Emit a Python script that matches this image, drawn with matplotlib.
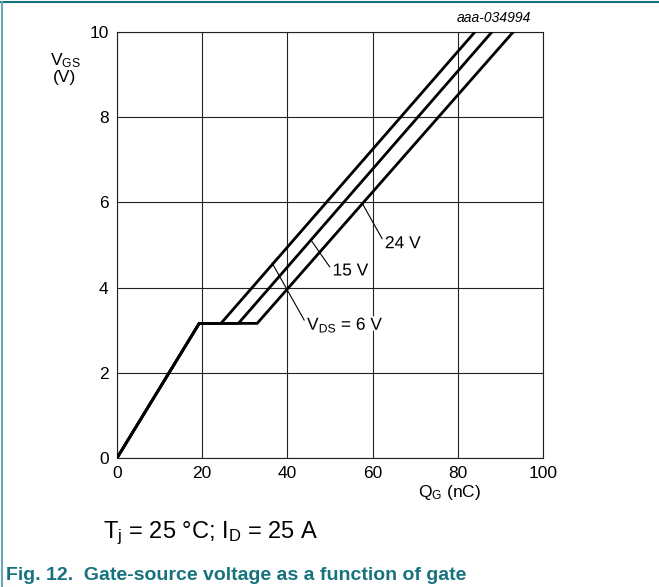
import matplotlib
matplotlib.use("Agg")
import matplotlib.pyplot as plt
import matplotlib.patheffects as pe

plt.rcParams['font.family'] = ['Liberation Sans', 'DejaVu Sans']
plt.rcParams['mathtext.fontset'] = 'custom'
plt.rcParams['mathtext.rm'] = 'Liberation Sans'
plt.rcParams['mathtext.it'] = 'Liberation Sans:italic'

# Gate charge curves (QG in nC, VGS in V)
vds_labels = ['6 V', '15 V', '24 V']
qg_6v = [0, 19.3, 24.4, 84.0]
qg_15v = [0, 19.3, 28.5, 88.0]
qg_24v = [0, 19.3, 32.9, 93.0]
vgs = [0, 3.16, 3.16, 10.0]

x_ticks = [0, 20, 40, 60, 80, 100]
y_ticks = [0, 2, 4, 6, 8, 10]

teal = '#16737d'

fig = plt.figure(figsize=(6.59, 5.87), dpi=100)
ax = fig.add_axes([117/659, 1 - 458/587, 426/659, 426/587])

for q in (qg_6v, qg_15v, qg_24v):
    ax.plot(q, vgs, color='black', lw=2.0, solid_joinstyle='miter', zorder=3)

ax.set_xlim(0, 100)
ax.set_ylim(0, 10)
ax.set_xticks(x_ticks)
ax.set_yticks(y_ticks)
ax.tick_params(length=0, labelsize=12.5, pad=6)
ax.grid(True, color='#222222', lw=0.8)
for s in ax.spines.values():
    s.set_linewidth(0.8)
    s.set_color('#222222')

knock = [pe.withStroke(linewidth=3, foreground='white')]

# curve labels with leader lines
ann = [
    ('24 V', (57.5, 5.99), (62.9, 5.03)),
    ('15 V', (45.5, 5.12), (50.6, 4.39)),
    ('V$_{\\mathrm{DS}}$ = 6 V', (36.4, 4.58), (44.6, 3.12)),
]
for txt, xy, xyt in ann:
    ax.annotate(txt, xy=xy, xytext=xyt, fontsize=12.5, va='center', ha='left',
                path_effects=knock, zorder=5,
                arrowprops=dict(arrowstyle='-', lw=0.8, color='black',
                                shrinkA=0, shrinkB=0, relpos=(0, 0.5)))

fig.text(65/659, 1 - 68/587, 'V$_{\\mathrm{GS}}$\n(V)', fontsize=12.5,
         ha='center', va='center', linespacing=1.0)
fig.text(450/659, 1 - 493/587, 'Q$_{\\mathrm{G}}$ (nC)', fontsize=12.5,
         ha='center', va='center')
fig.text(531/659, 1 - 18/587, 'aaa-034994', fontsize=10, style='italic',
         ha='right', va='center')

fig.text(103/659, 1 - 533/587, 'T$_{\\mathrm{j}}$ = 25 °C; I$_{\\mathrm{D}}$ = 25 A',
         fontsize=17, ha='left', va='center')
fig.text(6/659, 1 - 576/587, 'Fig. 12.  Gate-source voltage as a function of gate',
         fontsize=14, fontweight='bold', color=teal, ha='left', va='center')

# page border lines
fig.add_artist(plt.Line2D([0, 1], [1 - 2/587, 1 - 2/587], color=teal, lw=1.5))
fig.add_artist(plt.Line2D([1.5/659, 1.5/659], [0, 1 - 2/587], color='#6aa8b0', lw=1.5))

fig.savefig('out.png', dpi=100)
